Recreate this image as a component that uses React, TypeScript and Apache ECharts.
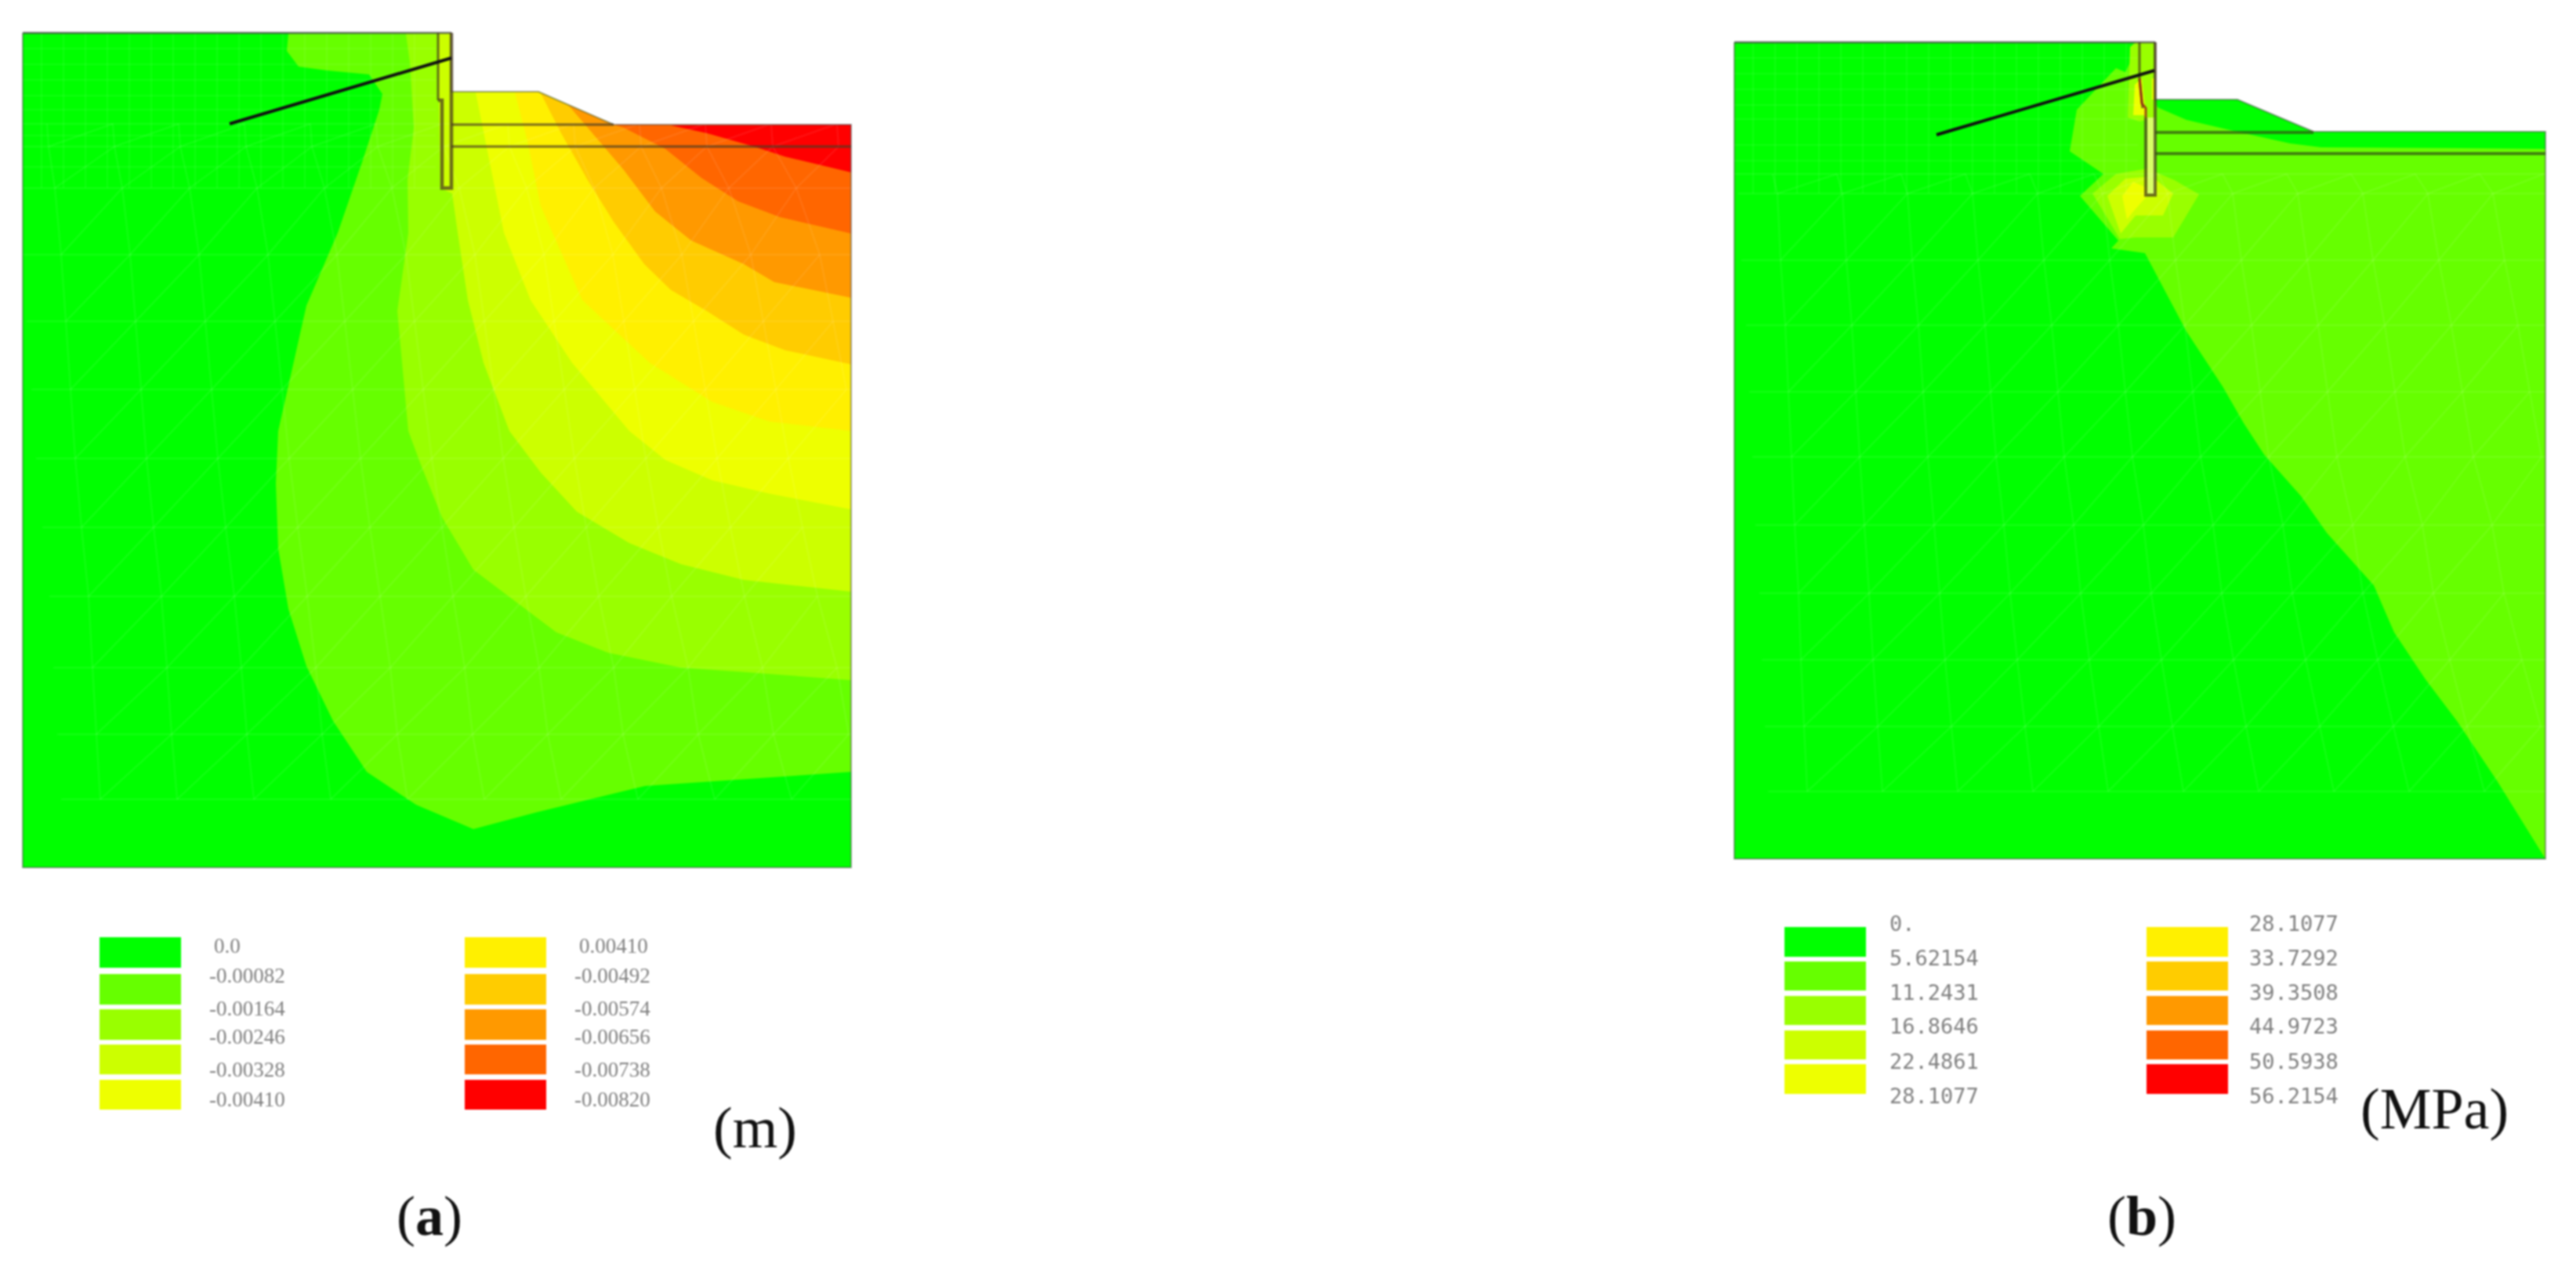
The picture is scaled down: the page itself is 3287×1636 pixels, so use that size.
import * as echarts from 'echarts';
import { useEffect, useRef } from 'react';

// contour levels, lowest band first
const bandColors = ['#00ff00', '#66ff00', '#99ff00', '#ccff00', '#eeff00', '#fff000', '#ffcc00', '#ff9900', '#ff6600', '#ff0000'];

const dispLabelsA = ['0.0', '-0.00082', '-0.00164', '-0.00246', '-0.00328', '-0.00410'];
const dispLabelsB = ['0.00410', '-0.00492', '-0.00574', '-0.00656', '-0.00738', '-0.00820'];
const stressLabelsA = ['0.', '5.62154', '11.2431', '16.8646', '22.4861', '28.1077'];
const stressLabelsB = ['28.1077', '33.7292', '39.3508', '44.9723', '50.5938', '56.2154'];

// panel (a): section outline and contour regions
const outlineA = [[29, 42], [576, 42], [576, 117], [687, 117], [783, 159], [1086, 159], [1086, 1107], [29, 1107]];
const bandsA = [
    [[1086, 985], [823, 1003], [683, 1037], [604, 1058], [531, 1027], [468, 985], [425, 920], [391, 850], [368, 777], [355, 700], [352, 617], [355, 550], [391, 390], [431, 297], [461, 210], [484, 140], [488, 120], [471, 95], [418, 90], [381, 85], [366, 65], [368, 43], [576, 42], [576, 117], [687, 117], [783, 159], [1086, 159]],
    [[1086, 868], [955, 858], [869, 852], [776, 833], [710, 807], [657, 767], [604, 727], [564, 660], [537, 593], [521, 550], [507, 397], [521, 297], [520, 230], [528, 163], [523, 80], [518, 43], [576, 42], [576, 117], [687, 117], [783, 159], [1086, 159]],
    [[1086, 755], [949, 740], [869, 720], [803, 693], [736, 653], [690, 603], [650, 550], [617, 463], [597, 383], [584, 297], [577, 247], [562, 240], [560, 130], [560, 43], [576, 42], [576, 117], [687, 117], [783, 159], [1086, 159]],
    [[1086, 650], [982, 630], [909, 613], [849, 587], [803, 550], [730, 463], [677, 383], [643, 297], [624, 203], [607, 118], [687, 117], [783, 159], [1086, 159]],
    [[1086, 550], [982, 538], [909, 513], [829, 463], [743, 383], [690, 263], [673, 180], [657, 118], [687, 117], [783, 159], [1086, 159]],
    [[1086, 465], [1002, 447], [949, 427], [902, 397], [856, 370], [822, 337], [783, 283], [750, 230], [716, 170], [690, 119], [783, 159], [1086, 159]],
    [[1086, 380], [988, 360], [949, 337], [882, 307], [836, 270], [796, 217], [750, 163], [725, 134], [783, 159], [1086, 159]],
    [[1086, 298], [995, 277], [942, 257], [895, 227], [849, 190], [796, 163], [783, 159], [1086, 159]],
    [[1086, 220], [1002, 200], [962, 187], [902, 170], [856, 160], [1086, 159]],
];
const bandLevelsA = [1, 2, 3, 4, 5, 6, 7, 8, 9];

// panel (b)
const outlineB = [[2213, 54], [2750, 54], [2750, 127], [2855, 127], [2952, 168], [3248, 168], [3248, 1096], [2213, 1096]];
const bandsB = [
    [[3248, 1096], [3186, 996], [3135, 920], [3095, 867], [3055, 807], [3029, 747], [2969, 680], [2936, 633], [2889, 580], [2863, 540], [2836, 493], [2790, 423], [2737, 323], [2694, 317], [2703, 307], [2654, 250], [2684, 222], [2641, 193], [2650, 140], [2700, 87], [2712, 92], [2730, 55], [2750, 54], [2750, 127], [2753, 137], [2790, 153], [2850, 167], [2922, 183], [2962, 188], [3140, 189], [3248, 190]],
    [[2670, 247], [2700, 222], [2740, 215], [2775, 230], [2806, 248], [2773, 303], [2725, 303], [2705, 305]],
    [[2718, 60], [2715, 150], [2730, 155], [2750, 150], [2750, 54], [2725, 54]],
    [[2689, 250], [2712, 228], [2745, 225], [2773, 247], [2760, 275], [2725, 275], [2706, 298]],
    [[2708, 250], [2722, 232], [2740, 240], [2738, 252], [2722, 270], [2714, 280]],
    [[2724, 108], [2722, 147], [2738, 147], [2733, 100]],
    [[2746, 100], [2746, 127], [2750, 127], [2750, 100]],
];
const bandLevelsB = [1, 2, 2, 3, 4, 4, 4];

// structure lines: wall, struts, anchor
const wallThinA = [[559, 42], [559, 128]];
const wallA = [[559, 128], [564, 128], [564, 240], [576, 240], [576, 42]];
const strutsA = [[[576, 159], [783, 159]], [[576, 187], [1086, 187]]];
const anchorA = [[293, 158], [576, 74]];

const wallFillB = [[2740, 150], [2740, 247], [2750, 247], [2750, 150]];
const wallThinB = [[2730, 54], [2730, 100], [2734, 138]];
const crackB = [[2730, 100], [2733, 132], [2738, 138], [2738, 150]];
const wallB = [[2738, 150], [2738, 249], [2750, 249], [2750, 54]];
const strutsB = [[[2750, 169], [2952, 169]], [[2750, 196], [3248, 196]]];
const anchorB = [[2471, 172], [2749, 90]];

// finite element mesh rows: y, first node, node spacing
const meshRowsA = [[158, 60, 84], [187, 62, 84], [240, 70, 86], [325, 78, 88], [410, 84, 89], [497, 90, 90], [585, 96, 91], [673, 104, 92], [761, 113, 93], [852, 118, 95], [937, 123, 96], [1020, 128, 98]];
const meshRowsB = [[222, 2262, 82], [247, 2268, 83], [332, 2272, 84], [415, 2278, 85], [500, 2282, 86], [583, 2286, 87], [670, 2290, 89], [757, 2295, 90], [842, 2298, 92], [927, 2302, 94], [1010, 2306, 96]];
const fineRowsA = [62, 82, 102, 122, 140, 173, 213];
const fineRowsB = [74, 94, 114, 134, 152, 185, 205];

const meshLines = (rows: number[][], right: number) => {
    const nodes = rows.map(([y, x0, dx]) => {
        const list: number[][] = [];
        for (let x = x0; x < right; x += dx) list.push([x, y]);
        return list;
    });
    const lines: number[][][] = [];
    nodes.forEach((row, j) => {
        lines.push([[row[0][0] - 50, row[0][1]], [right, row[0][1]]]);
        if (j === 0) return;
        row.forEach((p, k) => {
            if (nodes[j - 1][k]) lines.push([p, nodes[j - 1][k]]);
            if (nodes[j - 1][k + 1]) lines.push([p, nodes[j - 1][k + 1]]);
        });
    });
    return lines;
};

const fineLines = (rows: number[], left: number, right: number, top: number, bottom: number) => {
    const lines: number[][][] = rows.map((y) => [[left, y], [right, y]]);
    for (let x = left + 24; x < right; x += 28) lines.push([[x, top], [x, bottom]]);
    return lines;
};

const polygons = (grid: number, shapes: number[][][], fills: string[]) => ({
    type: 'custom',
    xAxisIndex: grid,
    yAxisIndex: grid,
    silent: true,
    clip: false,
    data: shapes.map((_, i) => i),
    renderItem: (params: any, api: any) => ({
        type: 'polygon',
        shape: { points: shapes[params.dataIndex].map((p) => api.coord(p)) },
        style: { fill: fills[params.dataIndex] },
    }),
});

const polylines = (grid: number, shapes: number[][][], stroke: string, lineWidth: number, clip = false) => ({
    type: 'custom',
    xAxisIndex: grid,
    yAxisIndex: grid,
    silent: true,
    clip,
    data: shapes.map((_, i) => i),
    renderItem: (params: any, api: any) => ({
        type: 'polyline',
        shape: { points: shapes[params.dataIndex].map((p) => api.coord(p)) },
        style: { stroke, lineWidth, fill: null },
    }),
});

const legendColumn = (colors: string[], x: number, rows: number[][]) =>
    colors.map((fill, i) => ({
        type: 'rect',
        shape: { x, y: rows[i][0], width: 104, height: rows[i][1] - rows[i][0] },
        style: { fill },
    }));

const labelColumn = (labels: string[], x: number, ys: number[], fontFamily: string, fontSize: number, firstShift = 0) =>
    labels.map((text, i) => ({
        type: 'text',
        x: i === 0 ? x + firstShift : x,
        y: ys[i],
        style: { text, fontFamily, fontSize, fill: '#808080', textVerticalAlign: 'middle' },
    }));

const App = () => {
    const chartRef = useRef(null);

    useEffect(() => {
        document.body.style.margin = '0';
        const chartInstance = echarts.init(chartRef.current, null, { renderer: 'svg' });

        const swatchRowsA = [[1196, 1235], [1243, 1282], [1288, 1327], [1333, 1371], [1378, 1416]];
        const swatchRowsB = [[1183, 1221], [1227, 1264], [1271, 1308], [1315, 1352], [1358, 1396]];
        const labelYsA = [1207, 1245, 1287, 1323, 1365, 1403];
        const labelYsB = [1178, 1222, 1266, 1309, 1354, 1398];
        const serif = 'Liberation Serif';
        const mono = 'DejaVu Sans Mono';
        const lineColor = 'rgba(70, 55, 30, 0.72)';
        const edgeColor = 'rgba(70, 70, 70, 0.5)';
        const meshColor = 'rgba(255, 255, 255, 0.08)';

        const option = {
            animation: false,
            backgroundColor: '#ffffff',
            grid: [
                { left: 29, top: 42, width: 1057, height: 1065 },
                { left: 2213, top: 54, width: 1035, height: 1042 },
            ],
            xAxis: [
                { type: 'value', gridIndex: 0, min: 29, max: 1086, show: false },
                { type: 'value', gridIndex: 1, min: 2213, max: 3248, show: false },
            ],
            yAxis: [
                { type: 'value', gridIndex: 0, min: 42, max: 1107, inverse: true, show: false },
                { type: 'value', gridIndex: 1, min: 54, max: 1096, inverse: true, show: false },
            ],
            series: [
                polygons(0, [outlineA], [bandColors[0]]),
                polygons(0, bandsA, bandLevelsA.map((l) => bandColors[l])),
                polylines(0, meshLines(meshRowsA, 1086), meshColor, 2, true),
                polylines(0, fineLines(fineRowsA, 29, 556, 42, 240), 'rgba(255, 255, 255, 0.06)', 2),
                polylines(0, [[...outlineA, outlineA[0]]], edgeColor, 2),
                polylines(0, [[[29, 42], [576, 42]]], edgeColor, 3),
                polylines(0, [wallThinA], lineColor, 3),
                polylines(0, [wallA], lineColor, 4.5),
                polylines(0, strutsA, lineColor, 3),
                polylines(0, [anchorA], '#111111', 4),

                polygons(1, [outlineB], [bandColors[0]]),
                polygons(1, bandsB, bandLevelsB.map((l) => bandColors[l])),
                polygons(1, [wallFillB], ['#d8ff66']),
                polylines(1, meshLines(meshRowsB, 3248), meshColor, 2, true),
                polylines(1, fineLines(fineRowsB, 2213, 2728, 54, 247), 'rgba(255, 255, 255, 0.06)', 2),
                polylines(1, [[...outlineB, outlineB[0]]], edgeColor, 2),
                polylines(1, [[[2213, 54], [2750, 54]]], edgeColor, 3),
                polylines(1, [wallThinB], lineColor, 3),
                polylines(1, [crackB], 'rgba(150, 40, 20, 0.85)', 3),
                polylines(1, [wallB], lineColor, 4),
                polylines(1, strutsB, 'rgba(50, 80, 20, 0.7)', 4),
                polylines(1, [anchorB], '#111111', 4),
            ],
            graphic: [
                ...legendColumn(bandColors.slice(0, 5), 127, swatchRowsA),
                ...legendColumn(bandColors.slice(5), 593, swatchRowsA),
                ...legendColumn(bandColors.slice(0, 5), 2277, swatchRowsB),
                ...legendColumn(bandColors.slice(5), 2739, swatchRowsB),
                ...labelColumn(dispLabelsA, 267, labelYsA, serif, 27, 6),
                ...labelColumn(dispLabelsB, 733, labelYsA, serif, 27, 6),
                ...labelColumn(stressLabelsA, 2411, labelYsB, mono, 27),
                ...labelColumn(stressLabelsB, 2870, labelYsB, mono, 27),
                { type: 'text', x: 910, y: 1439, style: { text: '(m)', fontFamily: serif, fontSize: 74, fill: '#111', textVerticalAlign: 'middle' } },
                { type: 'text', x: 3012, y: 1415, style: { text: '(MPa)', fontFamily: serif, fontSize: 74, fill: '#111', textVerticalAlign: 'middle' } },
                {
                    type: 'text',
                    x: 548,
                    y: 1552,
                    style: {
                        text: '{n|(}{b|a}{n|)}',
                        align: 'center',
                        verticalAlign: 'middle',
                        rich: {
                            n: { fontFamily: serif, fontSize: 72, fill: '#111' },
                            b: { fontFamily: serif, fontSize: 72, fontWeight: 'bold', fill: '#111' },
                        },
                    },
                },
                {
                    type: 'text',
                    x: 2733,
                    y: 1552,
                    style: {
                        text: '{n|(}{b|b}{n|)}',
                        align: 'center',
                        verticalAlign: 'middle',
                        rich: {
                            n: { fontFamily: serif, fontSize: 72, fill: '#111' },
                            b: { fontFamily: serif, fontSize: 72, fontWeight: 'bold', fill: '#111' },
                        },
                    },
                },
            ],
        };

        chartInstance.setOption(option);

        return () => {
            chartInstance.dispose();
        };
    }, []);

    // the source figure is a soft upscaled raster
    return <div ref={chartRef} style={{ width: '3287px', height: '1636px', filter: 'blur(1px)' }} />;
};

export default App;
